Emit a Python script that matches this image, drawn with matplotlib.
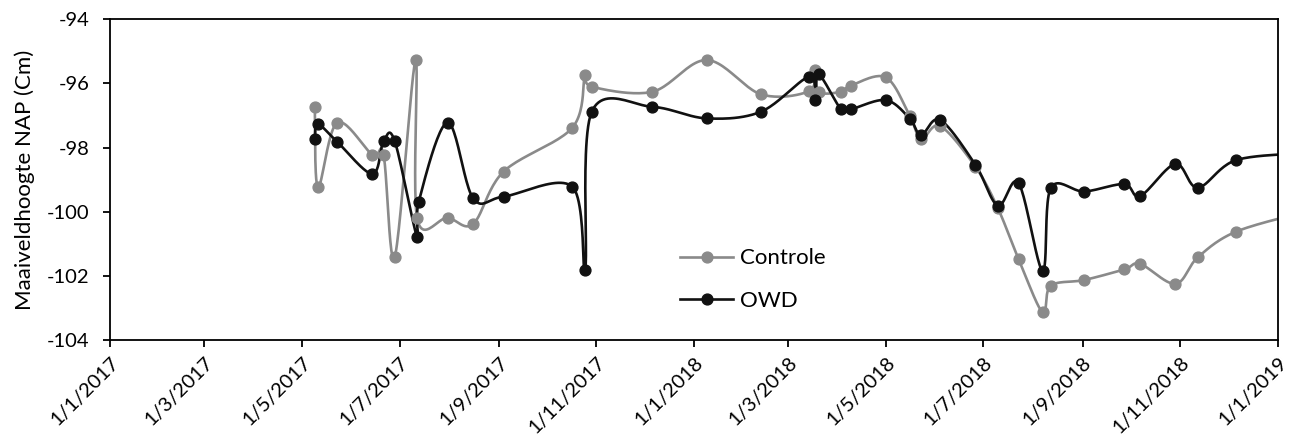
import datetime as dt
import numpy as np
import matplotlib
matplotlib.use("Agg")
import matplotlib.pyplot as plt
import matplotlib.dates as mdates
from matplotlib.lines import Line2D

plt.rcParams['font.family'] = ['Lato', 'DejaVu Sans']
plt.rcParams['axes.unicode_minus'] = False

# meetdata maaiveldhoogte (cm t.o.v. NAP)
controle_dates = [
    "2017-05-09", "2017-05-11", "2017-05-23", "2017-06-14", "2017-06-21", "2017-06-28",
    "2017-07-11", "2017-07-12", "2017-07-31", "2017-08-16", "2017-09-04", "2017-10-17",
    "2017-10-25", "2017-10-29", "2017-12-06", "2018-01-09", "2018-02-12", "2018-03-14",
    "2018-03-18", "2018-03-20", "2018-04-03", "2018-04-09", "2018-05-01", "2018-05-16",
    "2018-05-23", "2018-06-04", "2018-06-26", "2018-07-10", "2018-07-23", "2018-08-07",
    "2018-08-12", "2018-09-02", "2018-09-27", "2018-10-07", "2018-10-29", "2018-11-12",
    "2018-12-06", "2019-01-20",
]
controle = [
    -96.73, -99.24, -97.22, -98.23, -98.23, -101.40,
    -95.27, -100.21, -100.19, -100.38, -98.75, -97.38,
    -95.74, -96.10, -96.26, -95.27, -96.34, -96.24,
    -95.58, -96.26, -96.26, -96.07, -95.81, -97.02,
    -97.73, -97.33, -98.60, -99.89, -101.48, -103.14,
    -102.31, -102.13, -101.80, -101.63, -102.25, -101.42,
    -100.62, -99.98,
]

owd_dates = [
    "2017-05-09", "2017-05-11", "2017-05-23", "2017-06-14", "2017-06-21", "2017-06-28",
    "2017-07-12", "2017-07-13", "2017-07-31", "2017-08-16", "2017-09-04", "2017-10-17",
    "2017-10-25", "2017-10-29", "2017-12-06", "2018-01-09", "2018-02-12", "2018-03-14",
    "2018-03-18", "2018-03-20", "2018-04-03", "2018-04-09", "2018-05-01", "2018-05-16",
    "2018-05-23", "2018-06-04", "2018-06-26", "2018-07-10", "2018-07-23", "2018-08-07",
    "2018-08-12", "2018-09-02", "2018-09-27", "2018-10-07", "2018-10-29", "2018-11-12",
    "2018-12-06", "2019-01-20",
]
owd = [
    -97.73, -97.27, -97.82, -98.82, -97.80, -97.80,
    -100.80, -99.69, -97.22, -99.58, -99.53, -99.22,
    -101.82, -96.90, -96.73, -97.09, -96.88, -95.79,
    -96.52, -95.72, -96.81, -96.81, -96.52, -97.10,
    -97.61, -97.14, -98.54, -99.81, -99.11, -101.84,
    -99.27, -99.37, -99.14, -99.51, -98.51, -99.25,
    -98.39, -98.17,
]


def to_num(dates):
    return mdates.date2num([dt.datetime.strptime(d, "%Y-%m-%d") for d in dates])


def smooth(x, y, n=24):
    # Catmull-Rom spline door alle punten (zoals een vloeiende lijn in Excel)
    p = np.column_stack([x, y])
    p = np.vstack([p[0], p, p[-1]])
    out = []
    for i in range(1, len(p) - 2):
        p0, p1, p2, p3 = p[i - 1], p[i], p[i + 1], p[i + 2]
        t = np.linspace(0, 1, n, endpoint=False)[:, None]
        c1 = p1 + (p2 - p0) / 6
        c2 = p2 - (p3 - p1) / 6
        b = ((1 - t) ** 3) * p1 + 3 * ((1 - t) ** 2) * t * c1 + 3 * (1 - t) * t ** 2 * c2 + t ** 3 * p2
        out.append(b)
    out.append(p[-2][None, :])
    out = np.vstack(out)
    return out[:, 0], out[:, 1]


fig = plt.figure(figsize=(12.94, 4.45), dpi=100)
ax = fig.add_axes([0.085, 0.236, 0.9025, 0.7206])

series = [
    ("Controle", controle_dates, controle, "#8a8a8a"),
    ("OWD", owd_dates, owd, "#111111"),
]
handles = []
for name, dates, vals, col in series:
    xn = to_num(dates)
    sx, sy = smooth(xn, np.array(vals))
    ax.plot(sx, sy, color=col, lw=1.9, solid_capstyle="round", zorder=2)
    ax.plot(xn, vals, "o", color=col, ms=7.8, zorder=3)
    handles.append(Line2D([], [], color=col, lw=1.9, marker="o", ms=7.8, label=name))

ax.set_xlim(mdates.date2num(dt.datetime(2017, 1, 1)), mdates.date2num(dt.datetime(2019, 1, 1)))
ax.set_ylim(-104, -94)
ax.set_yticks(np.arange(-104, -93, 2))

ax.xaxis.set_major_locator(mdates.MonthLocator(bymonth=[1, 3, 5, 7, 9, 11]))
ax.xaxis.set_major_formatter(plt.FuncFormatter(
    lambda v, pos: "{0.day}/{0.month}/{0.year}".format(mdates.num2date(v))))
for lbl in ax.get_xticklabels():
    lbl.set_rotation(45)
    lbl.set_ha("right")
    lbl.set_rotation_mode("anchor")

ax.tick_params(axis="both", direction="out", length=5, width=1.3, labelsize=14.5, colors="black")
ax.tick_params(axis="x", pad=5)
ax.tick_params(axis="y", pad=10)
for s in ax.spines.values():
    s.set_linewidth(1.3)
    s.set_color("black")

ax.set_ylabel("Maaiveldhoogte NAP (Cm)", fontsize=16, labelpad=8)

ax.legend(handles=handles, loc="center left", bbox_to_anchor=(0.488, 0.1886), frameon=False,
          fontsize=16, handlelength=2.4, labelspacing=1.0, handletextpad=0.3,
          borderaxespad=0, borderpad=0)

fig.savefig("out.png", dpi=100)
